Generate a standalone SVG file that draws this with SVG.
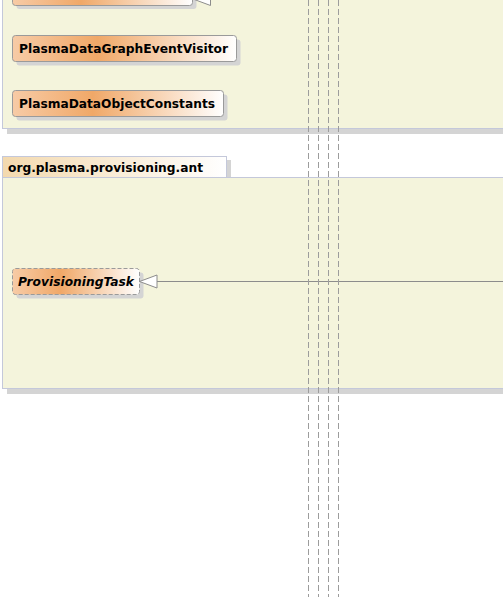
<svg xmlns="http://www.w3.org/2000/svg" width="503" height="597" viewBox="0 0 503 597">
<defs>
<linearGradient id="ng" x1="0" y1="0" x2="1" y2="0">
<stop offset="0" stop-color="#F7CBA6"/>
<stop offset="0.38" stop-color="#F0A868"/>
<stop offset="1" stop-color="#FFFFFF"/>
</linearGradient>
<linearGradient id="tg" x1="0" y1="0" x2="1" y2="0">
<stop offset="0" stop-color="#F3D9AE"/>
<stop offset="1" stop-color="#FFFFFF"/>
</linearGradient>
<style>
.pkg{fill:#F4F4DC;stroke:#C4C8DA;stroke-width:1}
.shd{fill:#D4D4D4}
.node{fill:url(#ng);stroke:#9A9A9A;stroke-width:1}
.abs{stroke-dasharray:4,2}
.lbl{font-family:"DejaVu Sans",Verdana,sans-serif;font-weight:bold;font-size:13px;fill:#000}
.dash{stroke:#9C9C9C;stroke-width:1;stroke-dasharray:6,3;fill:none}
.edge{stroke:#8C8C8C;stroke-width:1;fill:none}
.tri{fill:#FFFFFF;stroke:#8C8C8C;stroke-width:1}
</style>
</defs>
<g id="pkg-top">
<rect class="shd" x="7" y="128" width="496" height="6"/>
<rect class="pkg" x="2.5" y="-10" width="510" height="138.5"/>
</g>
<g id="pkg-ant">
<rect class="shd" x="227" y="160" width="4" height="17"/>
<rect class="shd" x="7" y="388" width="496" height="6"/>
<rect class="pkg" x="2.5" y="177.5" width="510" height="211"/>
<rect x="2.5" y="156.5" width="224" height="21" fill="url(#tg)" stroke="#C4C8DA"/>
<text class="lbl" x="8" y="171.5" textLength="195" lengthAdjust="spacingAndGlyphs">org.plasma.provisioning.ant</text>
</g>
<g id="node-top">
<rect class="shd" x="16.5" y="-20" width="180" height="29" rx="3"/>
<rect class="node" x="12.5" y="-24" width="180" height="29.5" rx="3"/>
</g>
<g id="node-visitor">
<rect class="shd" x="16.5" y="39.5" width="224" height="26" rx="3"/>
<rect class="node" x="12.5" y="35.5" width="224" height="26" rx="3"/>
<text class="lbl" x="19" y="53" textLength="209" lengthAdjust="spacingAndGlyphs">PlasmaDataGraphEventVisitor</text>
</g>
<g id="node-constants">
<rect class="shd" x="16.5" y="94.5" width="211" height="26" rx="3"/>
<rect class="node" x="12.5" y="90.5" width="211" height="26" rx="3"/>
<text class="lbl" x="19" y="108" textLength="196" lengthAdjust="spacingAndGlyphs">PlasmaDataObjectConstants</text>
</g>
<g id="node-provisioningtask">
<rect class="shd" x="16.5" y="272.5" width="127" height="26" rx="3"/>
<rect class="node abs" x="12.5" y="268.5" width="127" height="26" rx="3"/>
<text class="lbl" x="18" y="286" font-style="italic" textLength="116" lengthAdjust="spacingAndGlyphs">ProvisioningTask</text>
</g>
<g id="connectors">
<path class="edge" d="M157,281.5 H503"/>
<polygon class="tri" points="139.5,281.5 157,275 157,288"/>
<polygon class="tri" points="193,-1 210.5,-7 210.5,5.5"/>
<path class="dash" d="M308.5,0 V597"/>
<path class="dash" d="M318.5,0 V597"/>
<path class="dash" d="M328.5,0 V597"/>
<path class="dash" d="M338.5,0 V597"/>
</g>
</svg>
